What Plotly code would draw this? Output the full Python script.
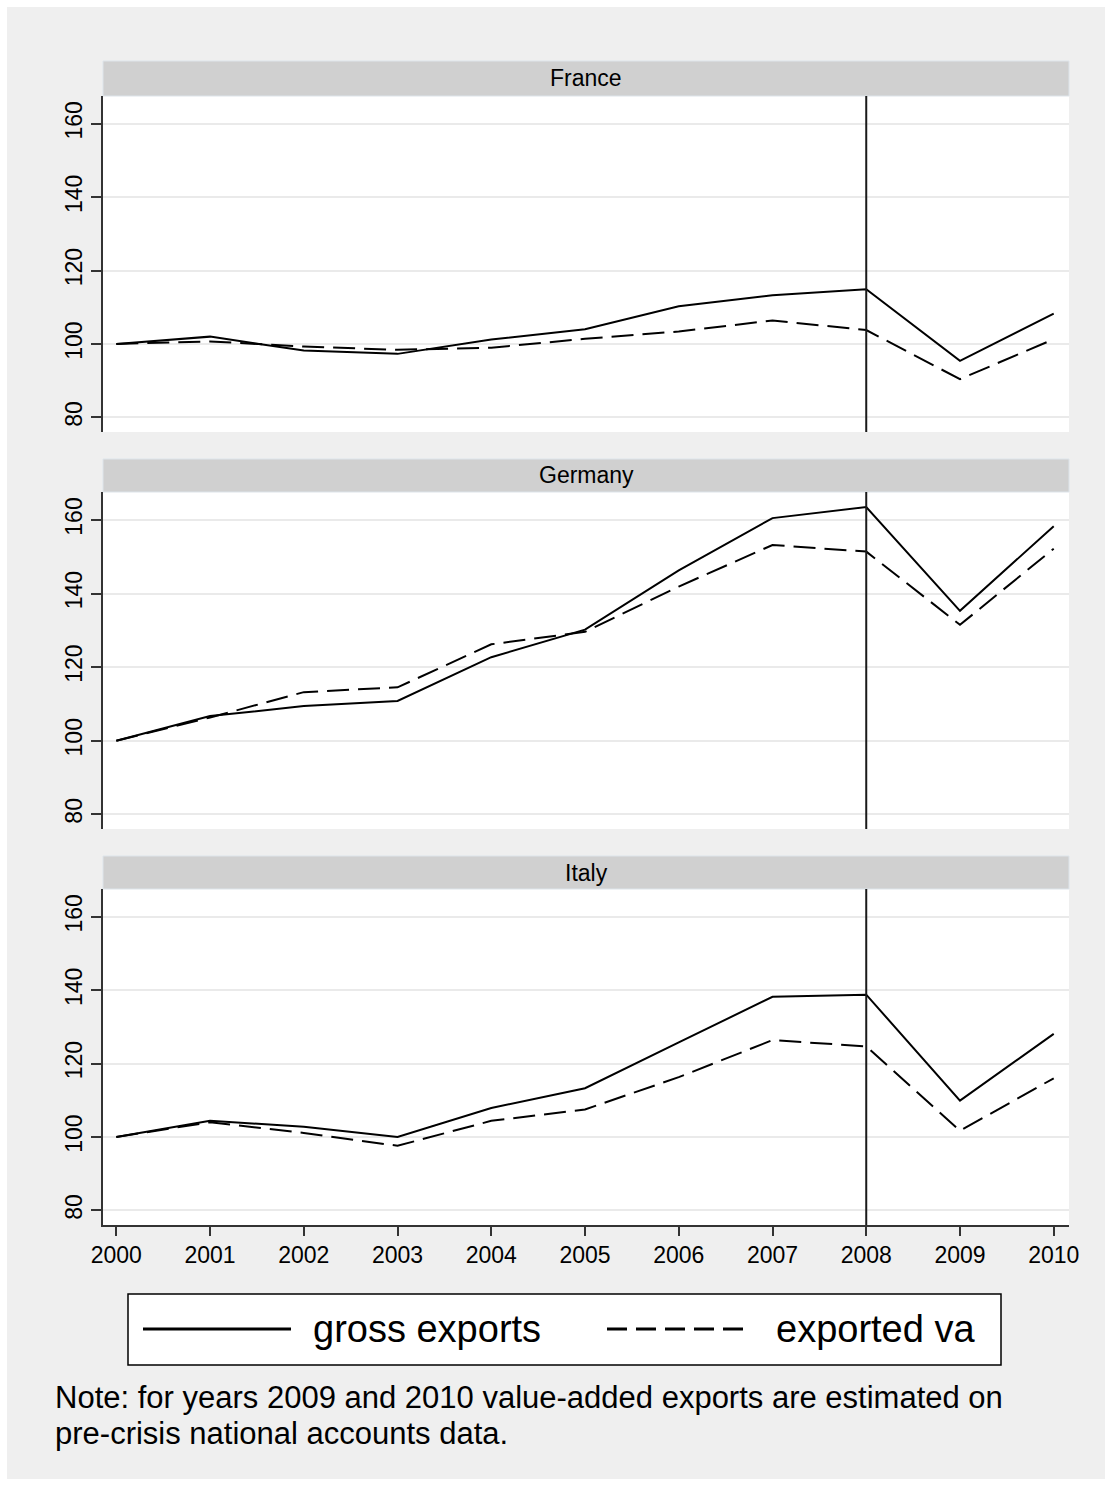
import plotly.graph_objects as go

# ---- data -------------------------------------------------------------
years = [2000, 2001, 2002, 2003, 2004, 2005, 2006, 2007, 2008, 2009, 2010]
countries = ["France", "Germany", "Italy"]

france_gross = [100, 102.0, 98.2, 97.3, 101.2, 104.0, 110.3, 113.3, 114.9, 95.4, 108.3]
france_va = [100, 100.7, 99.3, 98.4, 99.0, 101.4, 103.4, 106.4, 103.8, 90.4, 101.3]

germany_gross = [100, 106.7, 109.4, 110.8, 122.7, 130.2, 146.3, 160.5, 163.5, 135.3, 158.3]
germany_va = [100, 106.3, 113.2, 114.5, 126.2, 129.6, 141.9, 153.2, 151.4, 131.5, 152.2]

italy_gross = [100, 104.4, 102.8, 100.0, 107.9, 113.3, 125.8, 138.2, 138.8, 109.9, 128.1]
italy_va = [100, 104.0, 101.1, 97.6, 104.4, 107.5, 116.3, 126.4, 124.7, 101.7, 116.0]

series_names = ["gross exports", "exported va"]
crisis_year = 2008
y_ticks = [80, 100, 120, 140, 160]
note_lines = [
    "Note: for years 2009 and 2010 value-added exports are estimated on",
    "pre-crisis national accounts data.",
]

panels = [
    (france_gross, france_va),
    (germany_gross, germany_va),
    (italy_gross, italy_va),
]

# ---- page geometry (pixels) -------------------------------------------
W, H = 1112, 1486
L, R, T, B = 103, 43, 61, 261
PW, PH = W - L - R, H - T - B


def px_x(px):
    return (px - L) / PW


def px_y(py):
    return (H - B - py) / PH


# (strip top, plot top, plot bottom) in pixels for each panel
panel_px = [(61, 96, 432), (459, 492, 829), (856, 889, 1225)]

FONT = "Liberation Sans, Arial, Helvetica, sans-serif"
AXIS_COLOR = "#333333"

fig = go.Figure()

for i, ((gross, va), name) in enumerate(zip(panels, countries)):
    sfx = "" if i == 0 else str(i + 1)
    xa, ya = "x" + sfx, "y" + sfx
    fig.add_trace(go.Scatter(
        x=years, y=gross, mode="lines", name=series_names[0],
        line=dict(color="black", width=2), xaxis=xa, yaxis=ya, showlegend=False,
    ))
    fig.add_trace(go.Scatter(
        x=years, y=va, mode="lines", name=series_names[1],
        line=dict(color="black", width=2, dash="22px,9px"), xaxis=xa, yaxis=ya,
        showlegend=False,
    ))

    strip_top, plot_top, plot_bot = panel_px[i]
    bottom = i == len(countries) - 1

    fig.layout["xaxis" + sfx] = dict(
        domain=[0, 1], anchor=ya, range=[1999.858, 2010.163],
        tickmode="array", tickvals=years, ticktext=[str(y) for y in years],
        showticklabels=bottom, showline=bottom, ticks="outside" if bottom else "",
        ticklen=9, tickwidth=1.5, tickcolor=AXIS_COLOR, linecolor=AXIS_COLOR,
        linewidth=1.5, showgrid=False, zeroline=False,
        tickfont=dict(family=FONT, size=23, color="black"),
    )
    fig.layout["yaxis" + sfx] = dict(
        domain=[px_y(plot_bot), px_y(plot_top)], anchor=xa, range=[76.0, 167.6],
        tickmode="array", tickvals=y_ticks, tickangle=-90,
        ticks="outside", ticklen=10, tickwidth=1.5, tickcolor=AXIS_COLOR,
        showline=True, linecolor=AXIS_COLOR, linewidth=1.5,
        showgrid=True, gridcolor="#EAEAEA", gridwidth=1.5, zeroline=False,
        tickfont=dict(family=FONT, size=23, color="black"),
    )

    # vertical marker for the start of the crisis
    fig.add_shape(type="line", xref=xa, yref=ya + " domain",
                  x0=crisis_year, x1=crisis_year, y0=0, y1=1,
                  line=dict(color="#1a1a1a", width=2))

    # panel title strip
    fig.add_shape(type="rect", xref="paper", yref="paper",
                  x0=0, x1=1, y0=px_y(plot_top), y1=px_y(strip_top),
                  fillcolor="#D0D0D0", line=dict(color="#DDE4EA", width=1),
                  layer="below")
    fig.add_annotation(xref="paper", yref="paper", x=0.5,
                       y=px_y((strip_top + plot_top) / 2),
                       text=name, showarrow=False, xanchor="center",
                       yanchor="middle",
                       font=dict(family=FONT, size=23, color="black"))

# ---- legend box -------------------------------------------------------
fig.add_shape(type="rect", xref="paper", yref="paper",
              x0=px_x(128), x1=px_x(1001), y0=px_y(1365), y1=px_y(1294),
              fillcolor="white", line=dict(color="black", width=1.5))
legend_y = px_y(1329)
fig.add_shape(type="line", xref="paper", yref="paper",
              x0=px_x(143), x1=px_x(291), y0=legend_y, y1=legend_y,
              line=dict(color="black", width=3))
fig.add_shape(type="line", xref="paper", yref="paper",
              x0=px_x(607), x1=px_x(752), y0=legend_y, y1=legend_y,
              line=dict(color="black", width=3, dash="20px,9px"))
fig.add_annotation(xref="paper", yref="paper", x=px_x(311), y=legend_y,
                   text=series_names[0], showarrow=False, xanchor="left",
                   yanchor="middle", font=dict(family=FONT, size=38, color="black"))
fig.add_annotation(xref="paper", yref="paper", x=px_x(774), y=legend_y,
                   text=series_names[1], showarrow=False, xanchor="left",
                   yanchor="middle", font=dict(family=FONT, size=38, color="black"))

# ---- note ---------------------------------------------------------------
for line_text, cy in zip(note_lines, [1397, 1433]):
    fig.add_annotation(xref="paper", yref="paper", x=px_x(53), y=px_y(cy),
                       text=line_text, showarrow=False, xanchor="left",
                       yanchor="middle", font=dict(family=FONT, size=31, color="black"))

# white frame around the gray page
fig.add_shape(type="rect", xref="paper", yref="paper",
              x0=px_x(0), x1=px_x(W), y0=px_y(H), y1=px_y(0),
              line=dict(color="white", width=14), fillcolor="rgba(0,0,0,0)")

fig.update_layout(
    width=W, height=H,
    margin=dict(l=L, r=R, t=T, b=B),
    paper_bgcolor="#EFEFEF", plot_bgcolor="white",
    font=dict(family=FONT, color="black"),
    showlegend=False,
)

fig.write_html("out.html")
